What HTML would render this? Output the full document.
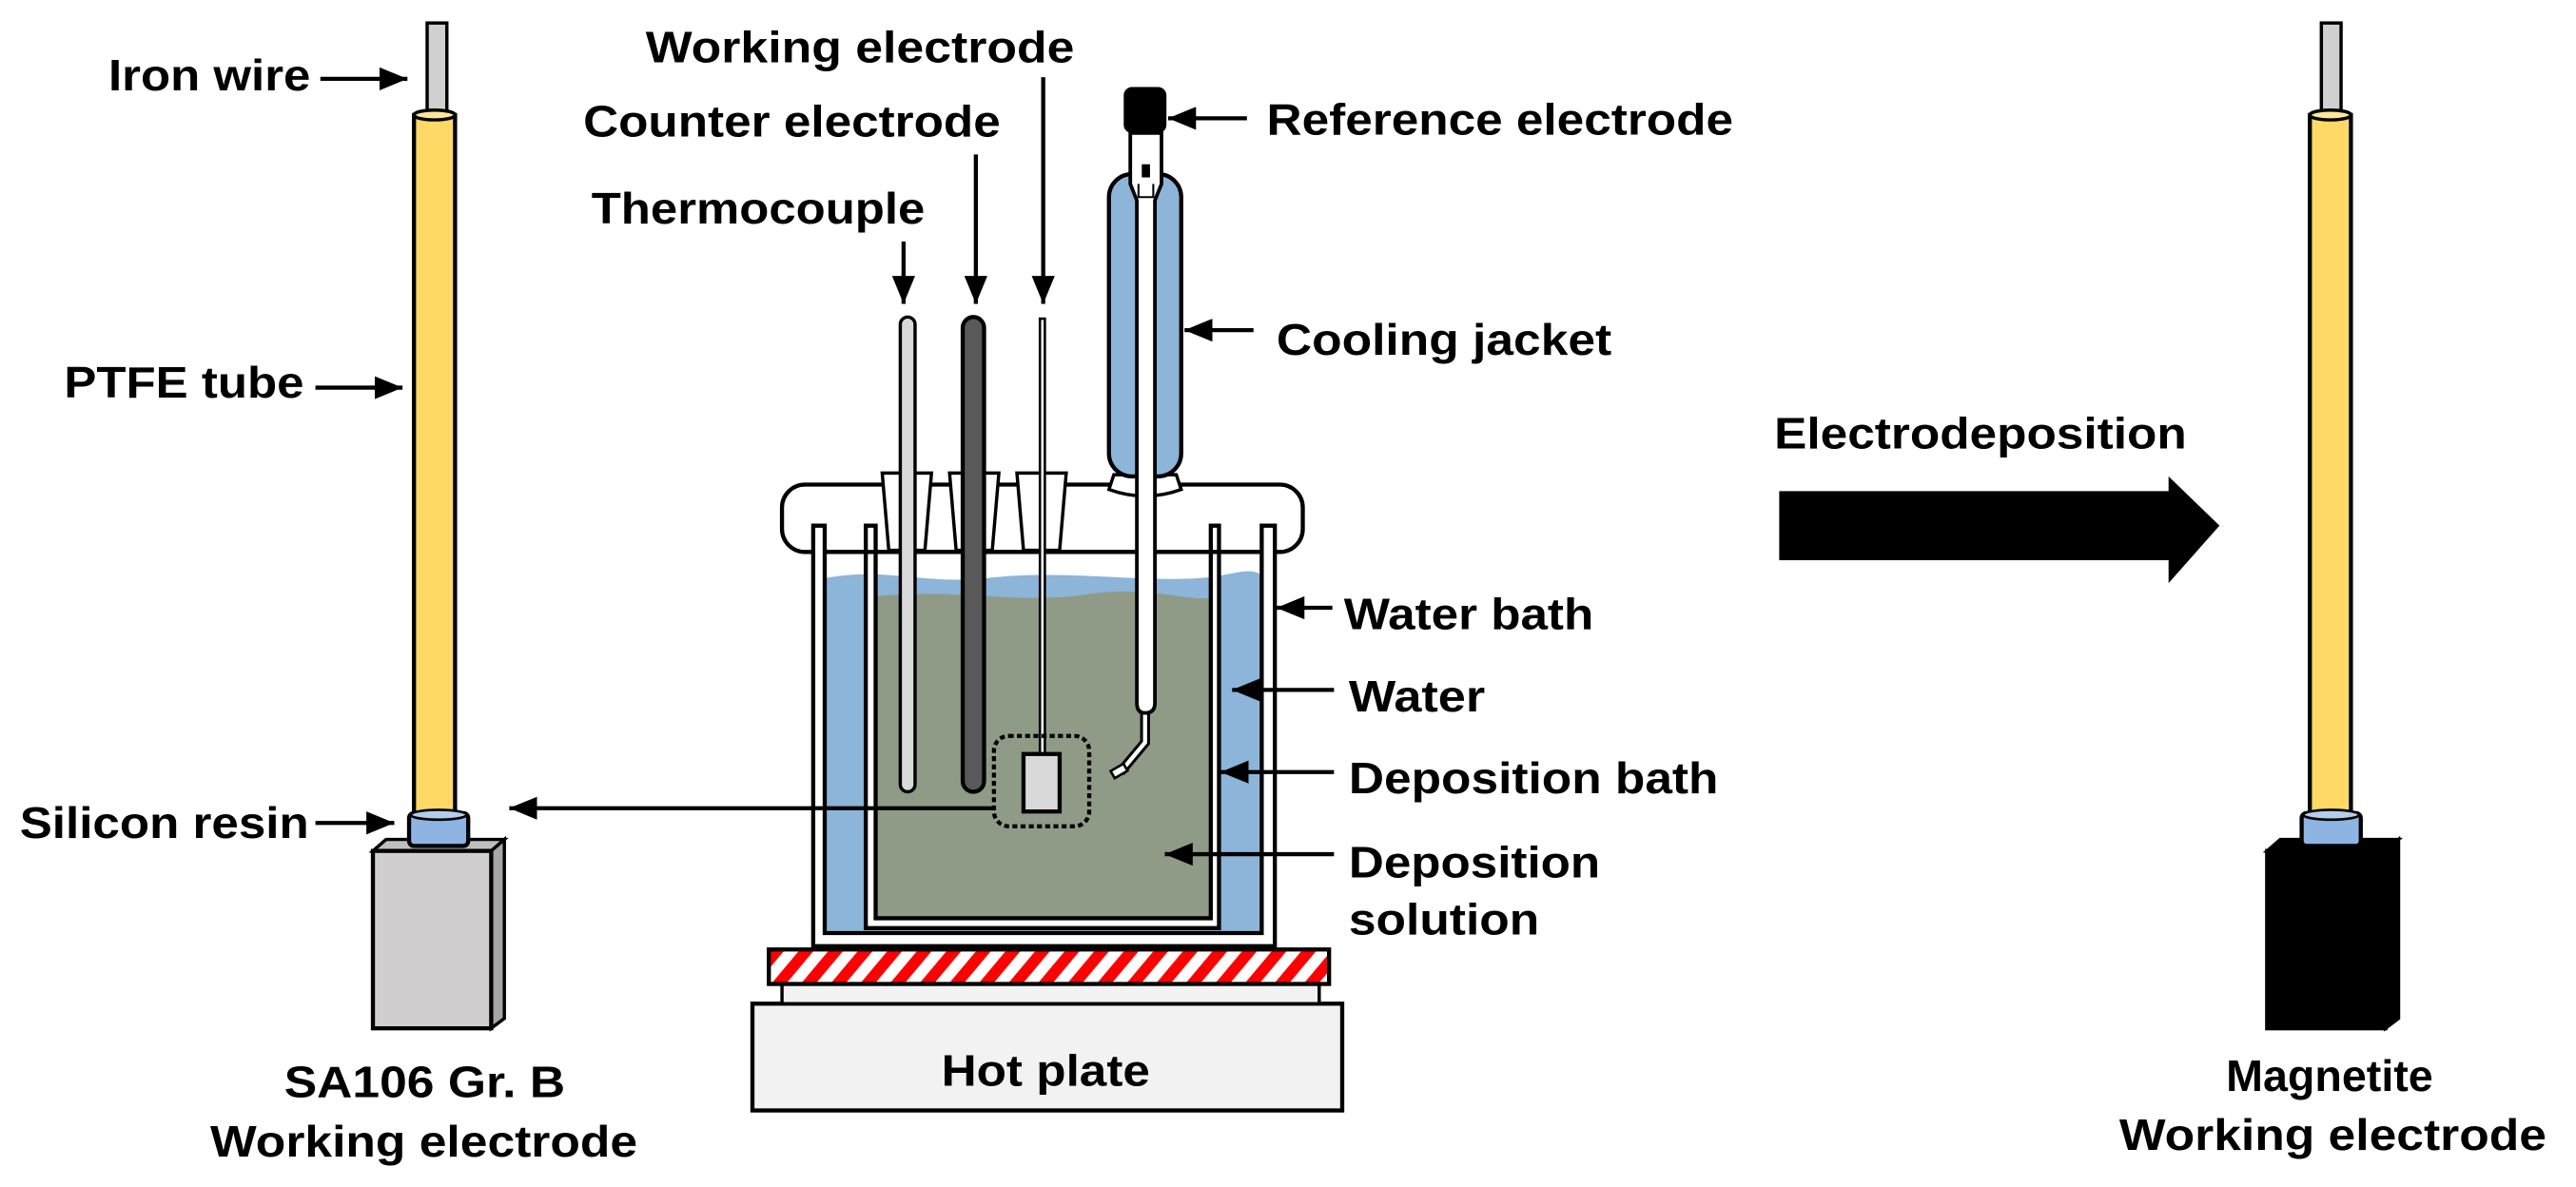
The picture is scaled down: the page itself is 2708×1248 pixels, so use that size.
<!DOCTYPE html>
<html><head><meta charset="utf-8"><style>
html,body{margin:0;padding:0;background:#fff;}
svg{display:block;}
text{font-family:"Liberation Sans",Arial,sans-serif;font-weight:bold;font-size:27px;fill:#000;}
</style></head><body>
<svg width="2708" height="1248" viewBox="0 0 1568 722.6" preserveAspectRatio="none" xmlns="http://www.w3.org/2000/svg">
<defs>
<marker id="ah2" markerWidth="17" markerHeight="14" refX="17" refY="7" orient="auto" markerUnits="userSpaceOnUse">
<path d="M0,0 L17,7 L0,14 Z" fill="#000"/>
</marker>
<pattern id="stripe" patternUnits="userSpaceOnUse" width="18" height="20" patternTransform="skewX(-40)">
<rect width="18" height="20" fill="#fff"/><rect width="9" height="20" fill="#ff0000"/>
</pattern>
</defs>

<!-- LEFT ELECTRODE -->
<rect x="260" y="14" width="12" height="56" fill="#d0d0d0" stroke="#000" stroke-width="2"/>
<rect x="252" y="70" width="25" height="426" fill="#ffd966" stroke="#000" stroke-width="2.5"/>
<ellipse cx="264.5" cy="70" rx="12.5" ry="3" fill="#ffe699" stroke="#000" stroke-width="2"/>
<polygon points="227,518 235,511 307,511 299,518" fill="#bfbfbf" stroke="#000" stroke-width="2"/>
<polygon points="299,518 307,511 307,620 299,626" fill="#a6a6a6" stroke="#000" stroke-width="2"/>
<rect x="227" y="518" width="72" height="108" fill="#d0cece" stroke="#000" stroke-width="2.5"/>
<rect x="249" y="495" width="36" height="20" rx="3" fill="#8db4e2" stroke="#000" stroke-width="2.5"/>
<ellipse cx="267" cy="496" rx="17" ry="3" fill="#b4cde8" stroke="#000" stroke-width="1.5"/>

<text x="66" y="55" textLength="123" lengthAdjust="spacingAndGlyphs">Iron wire</text>
<line x1="195" y1="48" x2="248" y2="48" stroke="#000" stroke-width="2.5" marker-end="url(#ah2)"/>
<text x="39" y="242" textLength="146" lengthAdjust="spacingAndGlyphs">PTFE tube</text>
<line x1="192" y1="236" x2="245" y2="236" stroke="#000" stroke-width="2.5" marker-end="url(#ah2)"/>
<text x="12" y="510" textLength="176" lengthAdjust="spacingAndGlyphs">Silicon resin</text>
<line x1="192" y1="501" x2="240" y2="501" stroke="#000" stroke-width="2.5" marker-end="url(#ah2)"/>
<text x="173" y="668" textLength="171" lengthAdjust="spacingAndGlyphs">SA106 Gr. B</text>
<text x="128" y="704" textLength="260" lengthAdjust="spacingAndGlyphs">Working electrode</text>

<!-- HOT PLATE -->
<rect x="458" y="611" width="359" height="65" fill="#f2f2f2" stroke="#000" stroke-width="2.5"/>
<text x="573" y="661" textLength="127" lengthAdjust="spacingAndGlyphs">Hot plate</text>
<rect x="476" y="599" width="327" height="12" fill="#f2f2f2" stroke="#000" stroke-width="2"/>
<rect x="468" y="578" width="341" height="21" fill="url(#stripe)" stroke="#000" stroke-width="2.5"/>

<!-- LID -->
<rect x="476" y="295" width="317" height="41" rx="14" fill="#fff" stroke="#000" stroke-width="2.5"/>

<!-- OUTER BATH -->
<path d="M502,352 C540,345 560,356 600,352 C650,346 700,356 740,351 C755,348 762,346 768,350 L768,568 L502,568 Z" fill="#8db4d9"/>
<path d="M495,320 L495,576 L776,576 L776,320 L768,320 L768,568 L502,568 L502,320 Z" fill="#fff" stroke="#000" stroke-width="2.5"/>

<!-- INNER BATH solution -->
<path d="M533,363 C580,358 620,368 660,362 C700,356 720,366 737,364 L737,559 L533,559 Z" fill="#8f9b87"/>
<path d="M527,320 L527,565 L742,565 L742,320 L737,320 L737,559 L533,559 L533,320 Z" fill="#fff" stroke="#000" stroke-width="2.5"/>
<line x1="502" y1="336" x2="768" y2="336" stroke="#000" stroke-width="2.5"/>

<!-- stoppers -->
<polygon points="537,288 567,288 563,335 541,335" fill="#fff" stroke="#000" stroke-width="2"/>
<polygon points="578,288 608,288 604,335 582,335" fill="#fff" stroke="#000" stroke-width="2"/>
<polygon points="619,288 649,288 645,335 623,335" fill="#fff" stroke="#000" stroke-width="2"/>

<!-- Thermocouple -->
<rect x="548" y="193" width="9" height="289" rx="4.5" fill="#d9d9d9" stroke="#000" stroke-width="2"/>
<!-- Counter -->
<rect x="586" y="193" width="13" height="289" rx="6.5" fill="#595959" stroke="#000" stroke-width="2.5"/>
<!-- Working -->
<rect x="633" y="194" width="3" height="265" fill="#fff" stroke="#000" stroke-width="1.5"/>
<rect x="623" y="459" width="22" height="35" fill="#d9d9d9" stroke="#000" stroke-width="2.5"/>
<rect x="605" y="448" width="58" height="55" rx="9" fill="none" stroke="#000" stroke-width="2.5" stroke-dasharray="3,2"/>

<!-- connector from sample -->
<line x1="605" y1="492" x2="310" y2="492" stroke="#000" stroke-width="2.5" marker-end="url(#ah2)"/>

<!-- Cooling jacket -->
<path d="M678,289 L716,289 L719,298 Q697,306 675,298 Z" fill="#fff" stroke="#000" stroke-width="2"/>
<rect x="675" y="106" width="44" height="184" rx="14" fill="#8db4d9" stroke="#000" stroke-width="2.5"/>
<!-- Reference electrode -->
<path d="M697,431 L697,452 L682,470" fill="none" stroke="#000" stroke-width="6"/>
<path d="M697,431 L697,452 L682,470" fill="none" stroke="#fff" stroke-width="2.5"/>
<rect x="677" y="467" width="9" height="5" transform="rotate(-30 681 470)" fill="#fff" stroke="#000" stroke-width="1.5"/>
<path d="M688,81 L707,81 L707,112 L703,122 L703,428 Q703,434 697,434 Q692,434 692,428 L692,122 L688,112 Z" fill="#fff" stroke="#000" stroke-width="2.2"/>
<rect x="695" y="100" width="5" height="8" fill="#000"/>
<path d="M693,112 L693,120 L702,120 L702,112" fill="none" stroke="#000" stroke-width="1.2"/>
<rect x="684" y="53" width="26" height="28" rx="5" fill="#000"/>

<!-- top labels -->
<text x="393" y="38" textLength="261" lengthAdjust="spacingAndGlyphs">Working electrode</text>
<text x="355" y="83" textLength="254" lengthAdjust="spacingAndGlyphs">Counter electrode</text>
<text x="360" y="136" textLength="203" lengthAdjust="spacingAndGlyphs">Thermocouple</text>
<line x1="550" y1="147" x2="550" y2="185" stroke="#000" stroke-width="2.5" marker-end="url(#ah2)"/>
<line x1="594" y1="94" x2="594" y2="185" stroke="#000" stroke-width="2.5" marker-end="url(#ah2)"/>
<line x1="635" y1="47" x2="635" y2="185" stroke="#000" stroke-width="2.5" marker-end="url(#ah2)"/>

<!-- right labels -->
<text x="771" y="82" textLength="284" lengthAdjust="spacingAndGlyphs">Reference electrode</text>
<line x1="759" y1="72" x2="711" y2="72" stroke="#000" stroke-width="2.5" marker-end="url(#ah2)"/>
<text x="777" y="216" textLength="204" lengthAdjust="spacingAndGlyphs">Cooling jacket</text>
<line x1="763" y1="201" x2="721" y2="201" stroke="#000" stroke-width="2.5" marker-end="url(#ah2)"/>
<text x="818" y="383" textLength="152" lengthAdjust="spacingAndGlyphs">Water bath</text>
<line x1="811" y1="370" x2="777" y2="370" stroke="#000" stroke-width="2.5" marker-end="url(#ah2)"/>
<text x="821" y="433" textLength="83" lengthAdjust="spacingAndGlyphs">Water</text>
<line x1="812" y1="420" x2="750" y2="420" stroke="#000" stroke-width="2.5" marker-end="url(#ah2)"/>
<text x="821" y="483" textLength="225" lengthAdjust="spacingAndGlyphs">Deposition bath</text>
<line x1="812" y1="470" x2="743" y2="470" stroke="#000" stroke-width="2.5" marker-end="url(#ah2)"/>
<text x="821" y="534" textLength="153" lengthAdjust="spacingAndGlyphs">Deposition</text>
<text x="821" y="569" textLength="116" lengthAdjust="spacingAndGlyphs">solution</text>
<line x1="812" y1="520" x2="709" y2="520" stroke="#000" stroke-width="2.5" marker-end="url(#ah2)"/>

<!-- Electrodeposition arrow -->
<text x="1080" y="273" textLength="251" lengthAdjust="spacingAndGlyphs">Electrodeposition</text>
<polygon points="1083,299 1320,299 1320,290 1351,320 1320,355 1320,341 1083,341" fill="#000"/>

<!-- RIGHT ELECTRODE -->
<rect x="1413" y="14" width="12" height="56" fill="#d0d0d0" stroke="#000" stroke-width="2"/>
<rect x="1406" y="70" width="25" height="426" fill="#ffd966" stroke="#000" stroke-width="2.5"/>
<ellipse cx="1418.5" cy="70" rx="12.5" ry="3" fill="#ffe699" stroke="#000" stroke-width="2"/>
<polygon points="1380,518 1388,511 1460,511 1452,518" fill="#000" stroke="#000" stroke-width="2"/>
<polygon points="1452,518 1460,511 1460,620 1452,626" fill="#000" stroke="#000" stroke-width="2"/>
<rect x="1380" y="518" width="72" height="108" fill="#000" stroke="#000" stroke-width="2.5"/>
<rect x="1401" y="495" width="36" height="20" rx="3" fill="#8db4e2" stroke="#000" stroke-width="2.5"/>
<ellipse cx="1419" cy="496" rx="17" ry="3" fill="#b4cde8" stroke="#000" stroke-width="1.5"/>
<text x="1418" y="664" text-anchor="middle">Magnetite</text>
<text x="1290" y="700" textLength="260" lengthAdjust="spacingAndGlyphs">Working electrode</text>
</svg>
</body></html>
